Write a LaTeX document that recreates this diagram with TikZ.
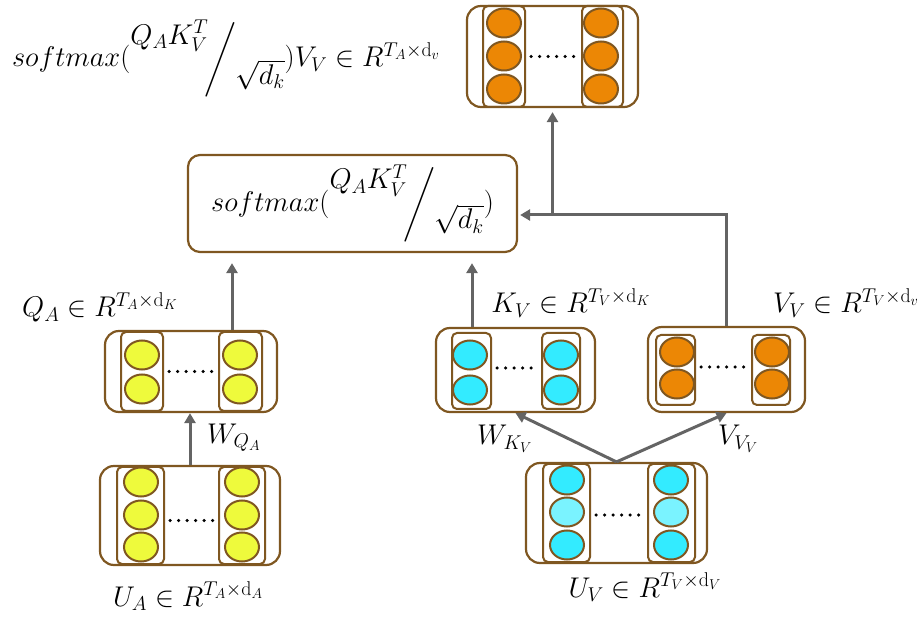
\RequirePackage{fix-cm}
\documentclass[tikz,border=0pt]{standalone}
\usepackage{amsmath}
\usetikzlibrary{arrows.meta,positioning,shapes.geometric}
\definecolor{boxbrown}{RGB}{127,87,33}
\definecolor{unityellow}{RGB}{238,250,60}
\definecolor{unitcyan}{RGB}{51,235,255}
\definecolor{unitlightcyan}{RGB}{122,243,255}
\definecolor{unitorange}{RGB}{236,135,5}
\definecolor{arrowgray}{RGB}{100,100,100}
\newcommand{\skewfrac}[2]{\raisebox{0.8em}{$#1$}\kern-0.12em\bigg/\kern-0.05em\raisebox{-0.6em}{$#2$}}

\begin{document}
\begin{tikzpicture}[
    x=1pt, y=-1pt,
    every node/.style={font=\fontsize{28.5}{34}\selectfont},
    outerbox/.style={draw=boxbrown, line width=2.2pt, rounded corners=14pt, inner sep=0pt, fill=white},
    colbox/.style={draw=boxbrown, line width=2pt, rounded corners=5pt, inner sep=0pt},
    neuron/.style={ellipse, draw=boxbrown, line width=2pt, minimum width=34pt, minimum height=29pt, inner sep=0pt},
    smbox/.style={draw=boxbrown, line width=2.2pt, rounded corners=12pt, minimum width=329pt, minimum height=97pt},
    dotrow/.style={line width=3.5pt, dash pattern=on 0pt off 8.5pt, line cap=round, shorten <=5pt, shorten >=5pt},
    flow/.style={-{Triangle[length=10pt,width=11pt]}, line width=3pt, draw=arrowgray}
]
\useasboundingbox (0,0) rectangle (924,617);

% output layer
\node[outerbox, minimum width=171pt, minimum height=101pt] (out) at (552.5,56.5) {};
\node[colbox, minimum width=42pt, minimum height=101pt] (out-c1) at (504,56.5) {};
\node[colbox, minimum width=41pt, minimum height=101pt] (out-c2) at (602.5,56.5) {};
\foreach \y [count=\i] in {23,56,89} {
  \node[neuron, fill=unitorange] (out-l\i) at (504,\y) {};
  \node[neuron, fill=unitorange] (out-r\i) at (601,\y) {};
}
\draw[dotrow] (out-c1.east) -- (out-c2.west);

% attention weights
\node[smbox] (sm) at (352.5,203.5) {$softmax(\skewfrac{Q_AK_V^T}{\sqrt{d_k}})$};

% query
\node[outerbox, minimum width=172pt, minimum height=81pt] (qa) at (191,371.5) {};
\node[colbox, minimum width=42pt, minimum height=79pt] (qa-c1) at (142,371.5) {};
\node[colbox, minimum width=43pt, minimum height=79pt] (qa-c2) at (240.5,371.5) {};
\foreach \y [count=\i] in {355,389} {
  \node[neuron, fill=unityellow] (qa-l\i) at (142,\y) {};
  \node[neuron, fill=unityellow] (qa-r\i) at (240,\y) {};
}
\draw[dotrow] (qa-c1.east) -- (qa-c2.west);

% audio input
\node[outerbox, minimum width=180pt, minimum height=99pt] (ua) at (190,515.5) {};
\node[colbox, minimum width=47pt, minimum height=97pt] (ua-c1) at (140.5,515.5) {};
\node[colbox, minimum width=46pt, minimum height=97pt] (ua-c2) at (242,515.5) {};
\foreach \y [count=\i] in {482,515,547} {
  \node[neuron, fill=unityellow] (ua-l\i) at (141,\y) {};
  \node[neuron, fill=unityellow] (ua-r\i) at (242,\y) {};
}
\draw[dotrow] ([yshift=-5pt]ua-c1.east) -- ([yshift=-5pt]ua-c2.west);

% key
\node[outerbox, minimum width=159pt, minimum height=84pt] (kv) at (515.5,370) {};
\node[colbox, minimum width=39pt, minimum height=76pt] (kv-c1) at (471.5,371) {};
\node[colbox, minimum width=38pt, minimum height=76pt] (kv-c2) at (561,371) {};
\foreach \y [count=\i] in {355,390} {
  \node[neuron, fill=unitcyan] (kv-l\i) at (470,\y) {};
  \node[neuron, fill=unitcyan] (kv-r\i) at (561,\y) {};
}
\draw[dotrow] ([yshift=3pt]kv-c1.east) -- ([yshift=3pt]kv-c2.west);

% value
\node[outerbox, minimum width=157pt, minimum height=85pt] (vv) at (726.5,369.5) {};
\node[colbox, minimum width=39pt, minimum height=70pt] (vv-c1) at (675.5,370) {};
\node[colbox, minimum width=38pt, minimum height=70pt] (vv-c2) at (771,370) {};
\foreach \y [count=\i] in {352,384} {
  \node[neuron, fill=unitorange] (vv-l\i) at (677,\y) {};
  \node[neuron, fill=unitorange] (vv-r\i) at (772,\y) {};
}
\draw[dotrow] ([yshift=3pt]vv-c1.east) -- ([yshift=3pt]vv-c2.west);

% visual input
\node[outerbox, minimum width=181pt, minimum height=100pt] (uv) at (616.5,513) {};
\node[colbox, minimum width=47pt, minimum height=98pt] (uv-c1) at (566.5,513) {};
\node[colbox, minimum width=47pt, minimum height=98pt] (uv-c2) at (671.5,513) {};
\foreach \y/\c [count=\i] in {480/unitcyan,512/unitlightcyan,545/unitcyan} {
  \node[neuron, fill=\c] (uv-l\i) at (567,\y) {};
  \node[neuron, fill=\c] (uv-r\i) at (671,\y) {};
}
\draw[dotrow] ([yshift=-2pt]uv-c1.east) -- ([yshift=-2pt]uv-c2.west);

% labels
\node[anchor=base] (lbl-out) at (226,67) {$softmax(\skewfrac{Q_AK_V^T}{\sqrt{d_k}})V_V\in R^{T_A\times\mathrm{d}_v}$};
\node[anchor=base] (lbl-qa) at (100,317) {$Q_A\in R^{T_A\times\mathrm{d}_K}$};
\node[anchor=base west, inner sep=0pt] (lbl-wq) at (207,443) {$W_{Q_A}$};
\node[anchor=base] (lbl-ua) at (188,606) {$U_A\in R^{T_A\times\mathrm{d}_A}$};
\node[anchor=base] (lbl-kv) at (571,313) {$K_V\in R^{T_V\times\mathrm{d}_K}$};
\node[anchor=base] (lbl-vv) at (846,313) {$V_V\in R^{T_V\times\mathrm{d}_v}$};
\node[anchor=base west, inner sep=0pt] (lbl-wk) at (477,445) {$W_{K_V}$};
\node[anchor=base west, inner sep=0pt] (lbl-wv) at (718,445) {$V_{V_V}$};
\node[anchor=base] (lbl-uv) at (645,597) {$U_V\in R^{T_V\times\mathrm{d}_V}$};

% connectors
\coordinate (split) at (552.5,215);
\draw[flow] (ua.north) -- (ua.north |- qa.south);
\draw[flow] ([xshift=41pt]qa.north) -- ([xshift=41pt,yshift=-10pt]qa.north |- sm.south);
\draw[flow] ([xshift=-43.5pt]kv.north) -- ([xshift=-43.5pt,yshift=-10pt]kv.north |- sm.south);
\draw[flow] (vv.north) |- ([xshift=2pt]sm.east |- split);
\draw[flow] (split) -- ([yshift=-4pt]out.south);
\draw[flow] (uv.north) -- (kv.south);
\draw[flow] (uv.north) -- (vv.south);
\end{tikzpicture}
\end{document}
